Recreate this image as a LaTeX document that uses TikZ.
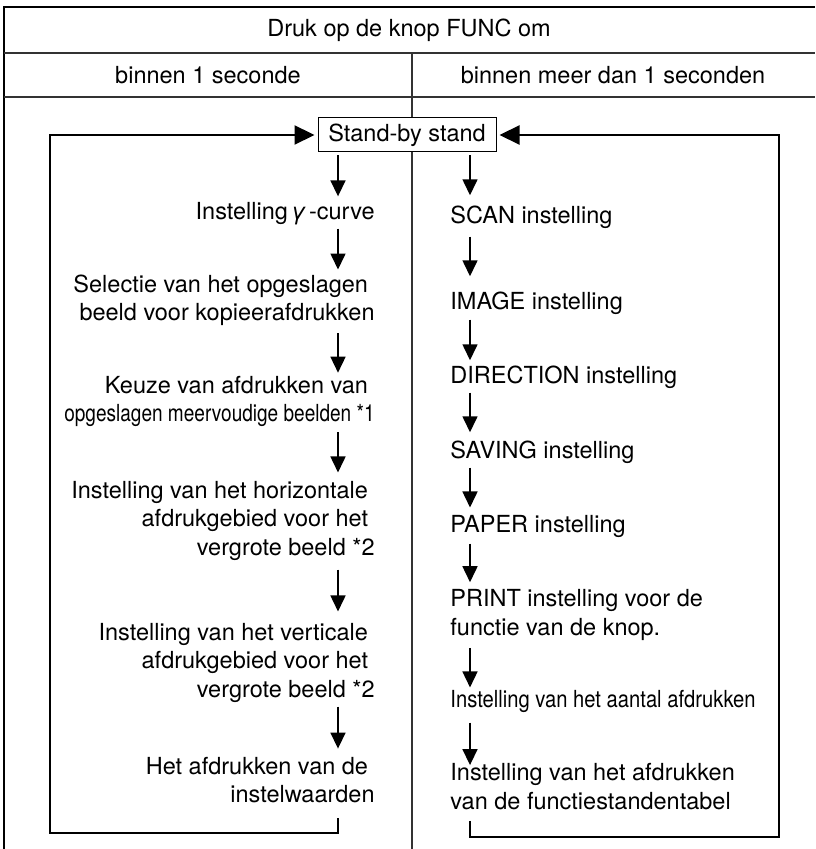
\documentclass[tikz,border=0pt]{standalone}
\usepackage{fontspec}
\setmainfont{TeX Gyre Heros}
\usepackage{graphicx}
\usetikzlibrary{arrows.meta}
\newcommand{\tsp}{\kern.28em}

\begin{document}
\begin{tikzpicture}[x=0.5pt,y=-0.5pt,
    txt/.style={font=\fontsize{11.75pt}{14.25pt}\selectfont, inner sep=0pt},
    ltxt/.style={txt, anchor=east, align=right},
    rtxt/.style={txt, anchor=west, align=left},
    standbox/.style={txt, draw, fill=white, line width=0.5pt, minimum width=89pt, minimum height=17pt},
    frameline/.style={line width=1.2pt},
    rule/.style={line width=0.6pt, black!80},
    flow/.style={line width=0.8pt, -{Triangle[length=8pt,width=7.5pt]}},
    loopline/.style={line width=1.1pt, -{Triangle[length=10pt,width=9.5pt]}}]
  \useasboundingbox (0,0) rectangle (815,849);
  % frame and table rules
  \draw[frameline] (4,849) -- (4,7) -- (815,7);
  \draw[rule] (4,53) -- (815,53) (4,97) -- (815,97) (412,53) -- (412,849);
  \node[txt] (title) at (409,30) {Druk op de knop FUNC om};
  \node[txt] (hleft) at (208,75) {binnen 1 seconde};
  \node[txt] (hright) at (613,75) {binnen meer dan 1 seconden};
  \node[standbox] (standby) at (407,135) {Stand-by stand};
  % left column
  \node[ltxt] (l1) at (375,214) {Instelling\kern1.5pt{\itshape γ}\kern1.5pt-curve};
  \node[ltxt] (l2) at (375,300.5) {Selectie van het opgeslagen\tsp\\beeld voor kopieerafdrukken};
  \node[ltxt] (l3) at (375,401.5) {Keuze van afdrukken van\tsp\\\scalebox{0.81}[1]{opgeslagen meervoudige beelden *1}};
  \node[ltxt] (l4) at (375,520.5) {Instelling van het horizontale\tsp\\afdrukgebied voor het\tsp\\vergrote beeld *2};
  \node[ltxt] (l5) at (375,662.5) {Instelling van het verticale\tsp\\afdrukgebied voor het\tsp\\vergrote beeld *2};
  \node[ltxt] (l6) at (375,780) {Het afdrukken van de\tsp\\instelwaarden};
  % right column
  \node[rtxt] (r1) at (450,217) {SCAN instelling};
  \node[rtxt] (r2) at (450,303) {IMAGE instelling};
  \node[rtxt] (r3) at (450,377) {DIRECTION instelling};
  \node[rtxt] (r4) at (450,452) {SAVING instelling};
  \node[rtxt] (r5) at (450,526) {PAPER instelling};
  \node[rtxt] (r6) at (450,615) {PRINT instelling voor de\\functie van de knop.};
  \node[rtxt] (r7) at (450,701) {\scalebox{0.86}[1]{Instelling van het aantal afdrukken}};
  \node[rtxt] (r8) at (450,786.5) {Instelling van het afdrukken\\van de functiestandentabel};
  % arrow columns and loop corners
  \coordinate (ax) at (338,0);
  \coordinate (bx) at (470,0);
  \coordinate (lb) at (50,833);
  \coordinate (rb) at (779,837);
  \foreach \a/\b/\s/\e in {standby/l1/1.5/3, l1/l2/1.5/2.5, l2/l3/3.5/1.5,
      l3/l4/2.5/4, l4/l5/4.5/5.5, l5/l6/2/4}
    \draw[flow, shorten <=\s pt, shorten >=\e pt] (\a.south -| ax) -- (\b.north -| ax);
  \foreach \a/\b/\s/\e in {standby/r1/1.5/5, r1/r2/4/7.5, r2/r3/2.5/2.5, r3/r4/2/4,
      r4/r5/2/3.5, r5/r6/3/3.5, r6/r7/3.5/1, r7/r8/5/-1}
    \draw[flow, shorten <=\s pt, shorten >=\e pt] (\a.south -| bx) -- (\b.north -| bx);
  % back to stand-by
  \draw[loopline, shorten <=7.5pt, shorten >=1.5pt] (l6.south -| ax) |- (lb) |- (standby.west);
  \draw[loopline, shorten <=5.5pt, shorten >=1.5pt] (r8.south -| bx) |- (rb) |- (standby.east);
\end{tikzpicture}
\end{document}
